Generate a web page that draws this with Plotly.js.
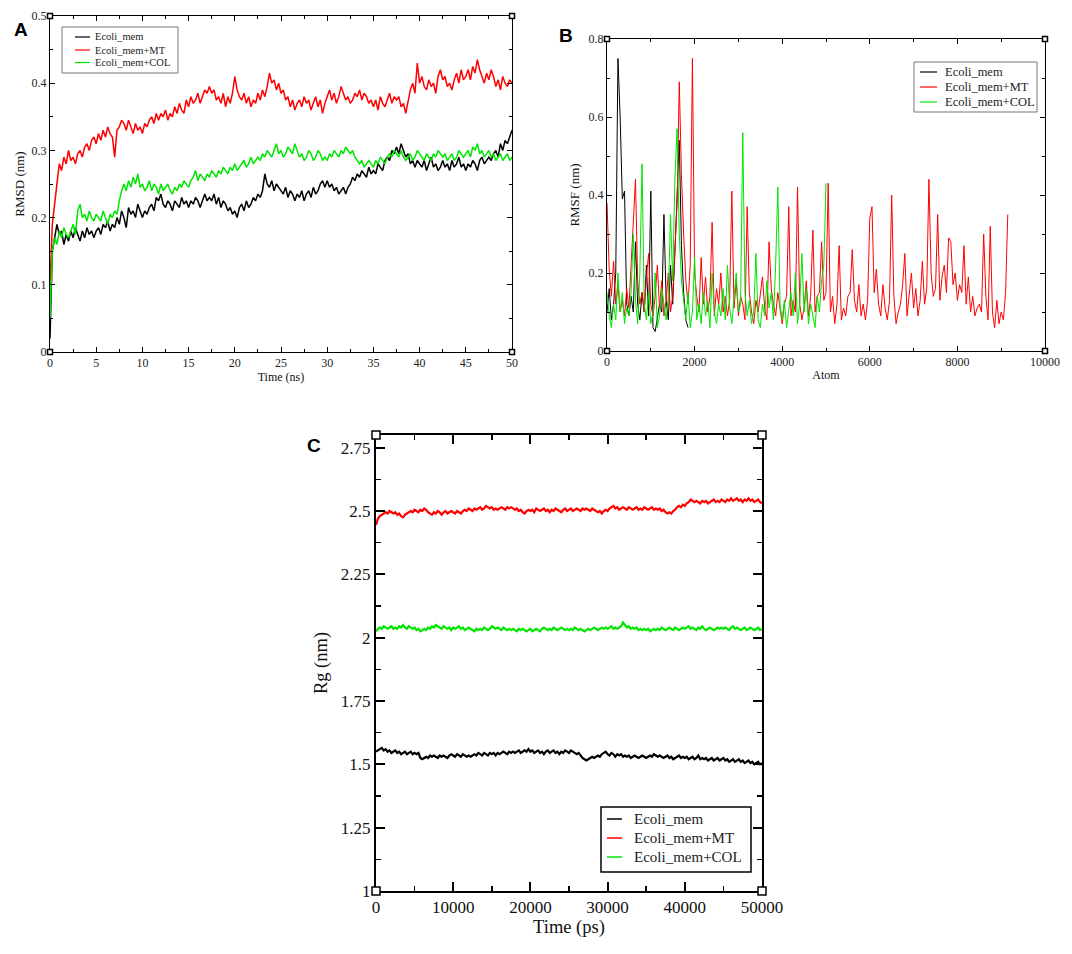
<!DOCTYPE html>
<html>
<head>
<meta charset="utf-8">
<script src="https://cdn.plot.ly/plotly-3.0.1.min.js"></script>
<style>html,body{margin:0;padding:0;background:#fff;}#chart{width:1072px;height:954px;}</style>
</head>
<body>
<div id="chart"></div>
<script>
// ---------- Panel A : RMSD (nm) vs Time (ns), sampled every 0.25 ns ----------
const A_step = 0.25;
const A_mem = [0.02,0.15,0.17,0.19,0.175,0.18,0.16,0.175,0.165,0.18,
0.17,0.185,0.175,0.165,0.18,0.17,0.185,0.175,0.18,0.17,
0.18,0.185,0.175,0.19,0.185,0.195,0.18,0.19,0.185,0.2,
0.19,0.21,0.2,0.185,0.215,0.205,0.21,0.2,0.22,0.21,
0.2,0.21,0.205,0.215,0.22,0.21,0.23,0.225,0.235,0.22,
0.215,0.225,0.22,0.21,0.225,0.22,0.215,0.23,0.22,0.225,
0.215,0.225,0.22,0.23,0.225,0.215,0.225,0.235,0.225,0.23,
0.225,0.235,0.22,0.23,0.215,0.225,0.22,0.21,0.215,0.205,
0.21,0.2,0.215,0.22,0.21,0.225,0.215,0.22,0.23,0.225,
0.235,0.23,0.24,0.265,0.25,0.245,0.255,0.24,0.25,0.245,
0.24,0.235,0.245,0.23,0.24,0.235,0.225,0.235,0.23,0.24,
0.225,0.235,0.24,0.23,0.245,0.235,0.24,0.25,0.255,0.245,
0.255,0.245,0.25,0.24,0.245,0.235,0.24,0.245,0.235,0.245,
0.25,0.26,0.255,0.265,0.26,0.27,0.265,0.26,0.275,0.265,
0.27,0.265,0.28,0.275,0.27,0.285,0.29,0.285,0.3,0.295,
0.305,0.295,0.31,0.3,0.29,0.295,0.28,0.285,0.275,0.285,
0.28,0.275,0.285,0.27,0.28,0.29,0.275,0.28,0.27,0.275,
0.285,0.275,0.28,0.27,0.285,0.275,0.28,0.29,0.275,0.28,
0.27,0.28,0.275,0.285,0.28,0.27,0.285,0.29,0.28,0.285,
0.29,0.285,0.295,0.3,0.29,0.31,0.3,0.315,0.31,0.32,
0.33];
const A_mt = [0.10,0.19,0.22,0.25,0.28,0.27,0.29,0.28,0.30,0.285,
0.29,0.28,0.295,0.30,0.29,0.305,0.31,0.30,0.315,0.32,
0.31,0.325,0.315,0.33,0.32,0.335,0.325,0.32,0.29,0.33,
0.335,0.345,0.34,0.33,0.345,0.335,0.325,0.34,0.33,0.335,
0.325,0.34,0.335,0.345,0.35,0.34,0.355,0.345,0.355,0.35,
0.36,0.345,0.355,0.35,0.365,0.355,0.37,0.36,0.355,0.375,
0.365,0.38,0.37,0.375,0.385,0.37,0.38,0.39,0.385,0.395,
0.385,0.39,0.375,0.38,0.37,0.385,0.365,0.38,0.37,0.385,
0.41,0.39,0.38,0.375,0.385,0.37,0.38,0.365,0.375,0.37,
0.385,0.375,0.39,0.38,0.395,0.415,0.40,0.405,0.39,0.40,
0.385,0.39,0.375,0.38,0.365,0.375,0.36,0.37,0.375,0.365,
0.38,0.37,0.375,0.36,0.37,0.38,0.365,0.375,0.355,0.37,
0.38,0.39,0.375,0.385,0.37,0.38,0.395,0.385,0.375,0.38,
0.37,0.375,0.385,0.38,0.39,0.375,0.385,0.38,0.37,0.375,
0.365,0.375,0.36,0.38,0.37,0.365,0.375,0.385,0.37,0.38,
0.375,0.38,0.365,0.37,0.355,0.375,0.39,0.40,0.385,0.43,
0.40,0.41,0.395,0.39,0.405,0.395,0.40,0.385,0.41,0.42,
0.405,0.41,0.395,0.40,0.39,0.405,0.415,0.40,0.42,0.405,
0.41,0.42,0.405,0.425,0.415,0.435,0.42,0.41,0.40,0.415,
0.405,0.42,0.41,0.395,0.405,0.39,0.41,0.40,0.395,0.405,
0.40];
const A_col = [0.05,0.15,0.17,0.16,0.18,0.17,0.185,0.175,0.17,0.18,
0.19,0.175,0.21,0.22,0.2,0.205,0.195,0.21,0.2,0.195,
0.205,0.2,0.195,0.21,0.2,0.19,0.205,0.2,0.21,0.205,
0.225,0.24,0.25,0.24,0.255,0.245,0.26,0.25,0.265,0.245,
0.25,0.24,0.245,0.255,0.24,0.25,0.245,0.235,0.25,0.24,
0.245,0.25,0.24,0.235,0.245,0.24,0.25,0.245,0.255,0.25,
0.245,0.255,0.26,0.27,0.255,0.265,0.26,0.255,0.265,0.26,
0.27,0.265,0.26,0.27,0.265,0.275,0.27,0.265,0.275,0.27,
0.28,0.27,0.275,0.28,0.285,0.275,0.28,0.29,0.28,0.285,
0.29,0.285,0.295,0.29,0.3,0.295,0.29,0.3,0.31,0.295,
0.3,0.29,0.295,0.305,0.3,0.295,0.31,0.3,0.29,0.295,
0.285,0.29,0.3,0.295,0.285,0.29,0.3,0.295,0.285,0.29,
0.285,0.295,0.29,0.3,0.295,0.29,0.3,0.295,0.305,0.3,
0.295,0.3,0.29,0.285,0.28,0.285,0.275,0.28,0.285,0.28,
0.275,0.285,0.28,0.29,0.285,0.28,0.29,0.295,0.29,0.3,
0.295,0.29,0.3,0.29,0.285,0.29,0.295,0.285,0.29,0.3,
0.295,0.29,0.285,0.295,0.29,0.285,0.295,0.29,0.3,0.295,
0.29,0.295,0.285,0.29,0.295,0.285,0.29,0.3,0.295,0.29,
0.295,0.3,0.29,0.305,0.3,0.31,0.295,0.3,0.29,0.295,
0.3,0.29,0.295,0.285,0.29,0.295,0.285,0.29,0.295,0.285,
0.29];
const A_xticks = [0,5,10,15,20,25,30,35,40,45,50];
const A_yticks = [0,0.1,0.2,0.3,0.4,0.5];
const A_yticklabels = ['0','0.1','0.2','0.3','0.4','0.5'];

// ---------- Panel B : RMSF (nm) vs Atom, sampled every 50 atoms ----------
const B_step = 50;
const B_mem = [0.10,0.16,0.08,0.12,0.20,0.75,0.60,0.39,0.41,0.12,
0.09,0.14,0.10,0.28,0.12,0.08,0.15,0.10,0.22,0.09,
0.41,0.06,0.05,0.08,0.12,0.10,0.35,0.13,0.08,0.22,
0.12,0.25,0.40,0.54,0.27,0.15,0.08,0.06];
const B_mt = [0.38,0.21,0.14,0.23,0.12,0.17,0.10,0.13,0.09,0.16,
0.11,0.22,0.34,0.44,0.18,0.12,0.15,0.10,0.19,0.25,
0.12,0.09,0.14,0.22,0.11,0.18,0.09,0.13,0.20,0.10,
0.14,0.26,0.38,0.69,0.45,0.30,0.18,0.12,0.22,0.75,
0.20,0.14,0.10,0.24,0.12,0.19,0.10,0.14,0.33,0.09,
0.16,0.12,0.20,0.10,0.14,0.09,0.13,0.41,0.11,0.18,
0.09,0.14,0.12,0.08,0.37,0.15,0.10,0.07,0.13,0.10,
0.14,0.19,0.11,0.08,0.28,0.16,0.12,0.09,0.15,0.11,
0.07,0.12,0.14,0.37,0.09,0.13,0.10,0.42,0.12,0.08,
0.11,0.18,0.09,0.14,0.31,0.10,0.14,0.15,0.28,0.13,
0.15,0.43,0.10,0.14,0.07,0.12,0.27,0.08,0.11,0.09,
0.14,0.15,0.26,0.13,0.10,0.17,0.09,0.12,0.08,0.13,
0.34,0.37,0.15,0.21,0.12,0.09,0.17,0.11,0.08,0.13,
0.40,0.14,0.07,0.10,0.12,0.17,0.25,0.09,0.14,0.20,
0.11,0.16,0.09,0.13,0.23,0.12,0.16,0.44,0.20,0.14,
0.16,0.35,0.13,0.19,0.22,0.15,0.29,0.28,0.17,0.20,
0.13,0.17,0.15,0.27,0.12,0.19,0.10,0.14,0.09,0.11,
0.12,0.10,0.30,0.14,0.08,0.32,0.10,0.06,0.13,0.07,
0.10,0.08,0.15,0.35];
const B_col = [0.15,0.09,0.06,0.12,0.08,0.20,0.10,0.15,0.07,0.11,
0.09,0.15,0.30,0.13,0.07,0.20,0.48,0.12,0.08,0.15,
0.07,0.10,0.20,0.06,0.09,0.16,0.12,0.08,0.14,0.35,
0.18,0.44,0.57,0.30,0.18,0.12,0.08,0.15,0.06,0.10,
0.24,0.08,0.12,0.07,0.15,0.09,0.13,0.06,0.20,0.10,
0.07,0.12,0.09,0.16,0.08,0.22,0.11,0.07,0.14,0.20,
0.10,0.12,0.56,0.15,0.09,0.13,0.07,0.10,0.25,0.08,
0.06,0.12,0.09,0.18,0.11,0.15,0.08,0.22,0.42,0.12,
0.08,0.13,0.06,0.10,0.15,0.09,0.20,0.07,0.12,0.25,
0.10,0.16,0.07,0.12,0.09,0.06,0.14,0.10,0.18,0.22,
0.43];
const B_xticks = [0,2000,4000,6000,8000,10000];
const B_xticklabels = ['0','2000','4000','6000','8000','10000'];
const B_yticks = [0,0.2,0.4,0.6,0.8];
const B_yticklabels = ['0','0.2','0.4','0.6','0.8'];

// ---------- Panel C : Rg (nm) vs Time (ps), sampled every 250 ps ----------
const C_step = 250;
const C_mem = [1.55,1.555,1.56,1.565,1.555,1.56,1.55,1.555,1.545,1.55,
1.555,1.545,1.55,1.54,1.545,1.55,1.54,1.545,1.55,1.54,
1.545,1.54,1.545,1.525,1.52,1.525,1.53,1.525,1.535,1.53,
1.535,1.53,1.525,1.535,1.53,1.535,1.53,1.525,1.535,1.54,
1.535,1.53,1.54,1.535,1.53,1.54,1.535,1.53,1.535,1.53,
1.535,1.54,1.535,1.545,1.54,1.535,1.545,1.54,1.535,1.545,
1.54,1.545,1.535,1.545,1.54,1.545,1.55,1.545,1.54,1.55,
1.545,1.55,1.545,1.55,1.555,1.545,1.55,1.555,1.55,1.56,
1.55,1.555,1.545,1.55,1.555,1.545,1.55,1.54,1.55,1.555,
1.545,1.55,1.555,1.545,1.55,1.54,1.55,1.545,1.555,1.55,
1.545,1.555,1.55,1.545,1.54,1.545,1.535,1.525,1.52,1.515,
1.52,1.525,1.53,1.525,1.53,1.535,1.53,1.54,1.545,1.55,
1.54,1.535,1.545,1.54,1.53,1.54,1.535,1.54,1.53,1.535,
1.53,1.535,1.525,1.53,1.535,1.53,1.525,1.53,1.535,1.53,
1.525,1.53,1.535,1.53,1.54,1.535,1.53,1.535,1.53,1.525,
1.53,1.535,1.525,1.53,1.52,1.525,1.53,1.535,1.525,1.53,
1.525,1.53,1.52,1.525,1.53,1.52,1.525,1.535,1.52,1.525,
1.52,1.525,1.515,1.52,1.525,1.515,1.52,1.525,1.515,1.52,
1.525,1.515,1.52,1.51,1.515,1.52,1.51,1.515,1.52,1.51,
1.515,1.505,1.51,1.515,1.505,1.51,1.5,1.505,1.51,1.5,
1.505];
const C_mt = [2.445,2.47,2.48,2.485,2.49,2.495,2.49,2.5,2.495,2.49,
2.495,2.485,2.49,2.48,2.475,2.485,2.49,2.495,2.5,2.495,
2.505,2.5,2.495,2.505,2.5,2.51,2.505,2.495,2.49,2.485,
2.495,2.49,2.5,2.495,2.485,2.495,2.5,2.49,2.495,2.5,
2.495,2.49,2.5,2.495,2.49,2.5,2.505,2.5,2.51,2.505,
2.5,2.51,2.505,2.51,2.515,2.505,2.51,2.52,2.515,2.51,
2.515,2.505,2.51,2.505,2.51,2.515,2.51,2.505,2.515,2.51,
2.515,2.51,2.505,2.51,2.5,2.505,2.495,2.49,2.5,2.505,
2.5,2.505,2.495,2.51,2.505,2.5,2.505,2.51,2.5,2.505,
2.495,2.505,2.5,2.51,2.505,2.5,2.495,2.505,2.51,2.5,
2.505,2.51,2.5,2.505,2.51,2.505,2.5,2.51,2.505,2.51,
2.505,2.5,2.51,2.505,2.5,2.495,2.5,2.49,2.5,2.505,
2.5,2.51,2.515,2.52,2.51,2.515,2.505,2.51,2.515,2.51,
2.505,2.515,2.51,2.505,2.51,2.515,2.505,2.51,2.505,2.515,
2.51,2.505,2.51,2.515,2.505,2.51,2.505,2.51,2.5,2.505,
2.495,2.49,2.495,2.49,2.5,2.505,2.515,2.52,2.515,2.525,
2.52,2.53,2.535,2.545,2.54,2.535,2.54,2.535,2.53,2.54,
2.535,2.54,2.53,2.535,2.54,2.545,2.535,2.54,2.535,2.545,
2.54,2.535,2.545,2.54,2.55,2.54,2.545,2.55,2.54,2.545,
2.535,2.545,2.54,2.55,2.54,2.545,2.535,2.54,2.545,2.535,
2.53];
const C_col = [2.025,2.035,2.04,2.035,2.045,2.04,2.035,2.04,2.045,2.035,
2.04,2.035,2.045,2.04,2.05,2.04,2.035,2.045,2.04,2.035,
2.04,2.03,2.035,2.025,2.03,2.035,2.03,2.04,2.035,2.045,
2.04,2.05,2.045,2.04,2.035,2.045,2.04,2.035,2.04,2.03,
2.04,2.035,2.04,2.045,2.035,2.04,2.03,2.035,2.04,2.035,
2.03,2.025,2.035,2.03,2.035,2.03,2.04,2.035,2.03,2.035,
2.045,2.04,2.035,2.04,2.035,2.03,2.04,2.035,2.03,2.035,
2.03,2.035,2.03,2.025,2.035,2.03,2.035,2.03,2.025,2.03,
2.035,2.025,2.03,2.035,2.03,2.025,2.035,2.04,2.035,2.03,
2.035,2.03,2.04,2.035,2.03,2.035,2.04,2.035,2.03,2.035,
2.03,2.035,2.03,2.04,2.035,2.03,2.035,2.03,2.025,2.03,
2.035,2.03,2.035,2.04,2.035,2.03,2.035,2.04,2.035,2.04,
2.035,2.04,2.045,2.035,2.04,2.035,2.04,2.045,2.06,2.05,
2.04,2.045,2.035,2.04,2.035,2.04,2.03,2.035,2.03,2.035,
2.03,2.035,2.025,2.03,2.035,2.03,2.035,2.03,2.04,2.035,
2.03,2.035,2.04,2.035,2.03,2.04,2.035,2.03,2.035,2.04,
2.035,2.04,2.045,2.035,2.04,2.035,2.03,2.04,2.035,2.045,
2.035,2.03,2.035,2.04,2.035,2.03,2.035,2.04,2.035,2.04,
2.035,2.04,2.035,2.03,2.04,2.045,2.035,2.04,2.035,2.03,
2.035,2.04,2.03,2.035,2.04,2.035,2.03,2.035,2.04,2.03,
2.035];
const C_xticks = [0,10000,20000,30000,40000,50000];
const C_xticklabels = ['0','10000','20000','30000','40000','50000'];
const C_yticks = [1,1.25,1.5,1.75,2,2.25,2.5,2.75];
const C_yticklabels = ['1','1.25','1.5','1.75','2','2.25','2.5','2.75'];

const seriesNames = ['Ecoli_mem','Ecoli_mem+MT','Ecoli_mem+COL'];
const seriesColors = ['#000000','#ff0000','#00e600'];

// ---------- build ----------
const grid = (arr, step) => arr.map((_, i) => i * step);
function mk(vals, step, k, xa, ya, w) {
  return {x: grid(vals, step), y: vals, type: 'scatter', mode: 'lines',
    name: seriesNames[k], line: {color: seriesColors[k], width: w},
    xaxis: xa, yaxis: ya, showlegend: false};
}
const traces = [
  mk(A_mem, A_step, 0, 'x', 'y', 1.5),
  mk(A_mt, A_step, 1, 'x', 'y', 1.5),
  mk(A_col, A_step, 2, 'x', 'y', 1.5),
  mk(B_mem, B_step, 0, 'x2', 'y2', 1),
  mk(B_mt, B_step, 1, 'x2', 'y2', 1),
  mk(B_col, B_step, 2, 'x2', 'y2', 1),
  mk(C_mem, C_step, 0, 'x3', 'y3', 2.2),
  mk(C_mt, C_step, 1, 'x3', 'y3', 2.2),
  mk(C_col, C_step, 2, 'x3', 'y3', 2.2)
];

const SERIF = 'Liberation Serif';
function ax(o) {
  return Object.assign({
    showline: true, linecolor: '#000', mirror: 'allticks', ticks: 'inside',
    showgrid: false, zeroline: false, tickcolor: '#000', automargin: false,
    tickmode: 'array'
  }, o);
}
const W = 1072, H = 954;
const px = v => v / W, py = v => 1 - v / H;

const layout = {
  width: W, height: H, margin: {l: 0, r: 0, t: 0, b: 0},
  paper_bgcolor: '#fff', plot_bgcolor: '#fff', showlegend: false,
  font: {family: SERIF, color: '#111'},
  xaxis: ax({domain: [px(50), px(512)], range: [0, 50], anchor: 'y',
    tickvals: A_xticks, ticklen: 5, linewidth: 1, tickwidth: 1,
    minor: {dtick: 2.5, tick0: 0, ticks: 'inside', ticklen: 3, tickcolor: '#000'},
    tickfont: {family: SERIF, size: 12, color: '#222'},
    title: {text: 'Time (ns)', font: {family: SERIF, size: 12}, standoff: 0}}),
  yaxis: ax({domain: [1 - 352 / H, 1 - 16 / H], range: [0, 0.5], anchor: 'x',
    tickvals: A_yticks, ticktext: A_yticklabels, ticklen: 5, linewidth: 1, tickwidth: 1,
    minor: {dtick: 0.05, tick0: 0, ticks: 'inside', ticklen: 3, tickcolor: '#000'},
    tickfont: {family: SERIF, size: 12, color: '#222'},
    title: {text: 'RMSD (nm)', font: {family: SERIF, size: 13}, standoff: 4}}),
  xaxis2: ax({domain: [px(607), px(1045)], range: [0, 10000], anchor: 'y2',
    tickvals: B_xticks, ticktext: B_xticklabels, ticklen: 5, linewidth: 1, tickwidth: 1,
    minor: {dtick: 1000, tick0: 0, ticks: 'inside', ticklen: 3, tickcolor: '#000'},
    tickfont: {family: SERIF, size: 12, color: '#222'},
    title: {text: 'Atom', font: {family: SERIF, size: 12}, standoff: 2}}),
  yaxis2: ax({domain: [1 - 351 / H, 1 - 39 / H], range: [0, 0.8], anchor: 'x2',
    tickvals: B_yticks, ticktext: B_yticklabels, ticklen: 5, linewidth: 1, tickwidth: 1,
    minor: {dtick: 0.1, tick0: 0, ticks: 'inside', ticklen: 3, tickcolor: '#000'},
    tickfont: {family: SERIF, size: 12, color: '#222'},
    title: {text: 'RMSF (nm)', font: {family: SERIF, size: 13}, standoff: 6}}),
  xaxis3: ax({domain: [px(376), px(762)], range: [0, 50000], anchor: 'y3',
    tickvals: C_xticks, ticktext: C_xticklabels, ticklen: 9, linewidth: 2, tickwidth: 2,
    minor: {dtick: 5000, tick0: 0, ticks: 'inside', ticklen: 5, tickwidth: 1.5, tickcolor: '#000'},
    tickfont: {family: SERIF, size: 17, color: '#111'},
    title: {text: 'Time (ps)', font: {family: SERIF, size: 18.5}, standoff: 0}}),
  yaxis3: ax({domain: [1 - 891 / H, 1 - 435 / H], range: [1, 2.8], anchor: 'x3',
    tickvals: C_yticks, ticktext: C_yticklabels, ticklen: 9, linewidth: 2, tickwidth: 2,
    minor: {dtick: 0.125, tick0: 1, ticks: 'inside', ticklen: 5, tickwidth: 1.5, tickcolor: '#000'},
    tickfont: {family: SERIF, size: 17, color: '#111'},
    title: {text: 'Rg (nm)', font: {family: SERIF, size: 18.5}, standoff: 8}}),
  annotations: [
    {text: '<b>A</b>', x: px(12), y: py(17), xref: 'paper', yref: 'paper', showarrow: false,
      font: {family: 'Liberation Sans', size: 19, color: '#000'}},
    {text: '<b>B</b>', x: px(566), y: py(23), xref: 'paper', yref: 'paper', showarrow: false,
      font: {family: 'Liberation Sans', size: 19, color: '#000'}},
    {text: '<b>C</b>', x: px(305), y: py(445), xref: 'paper', yref: 'paper', showarrow: false,
      font: {family: 'Liberation Sans', size: 19, color: '#000'}}
  ],
  shapes: []
};

// xmgrace-style legend boxes (border, short line sample, label) for each panel
function legendBox(box, rowsY, lineX, textX, size, border, bw, lw) {
  layout.shapes.push({type: 'rect', xref: 'paper', yref: 'paper',
    x0: px(box[0]), x1: px(box[2]), y0: py(box[3]), y1: py(box[1]),
    line: {color: border, width: bw}, fillcolor: '#fff', layer: 'above'});
  seriesNames.forEach((nm, k) => {
    layout.shapes.push({type: 'line', xref: 'paper', yref: 'paper',
      x0: px(lineX[0]), x1: px(lineX[1]), y0: py(rowsY[k]), y1: py(rowsY[k]),
      line: {color: seriesColors[k], width: lw}, layer: 'above'});
    layout.annotations.push({text: nm, xref: 'paper', yref: 'paper',
      x: px(textX), y: py(rowsY[k]), xanchor: 'left', yanchor: 'middle', showarrow: false,
      font: {family: SERIF, size: size, color: '#222'}});
  });
}
legendBox([62, 27, 178, 73], [37, 50, 62.5], [75, 90], 93, 10.5, '#777', 1, 1.2);
legendBox([914, 62, 1037, 112], [72, 87, 102], [920, 937], 943, 12.5, '#777', 1, 1.2);
legendBox([601, 807, 751, 872], [819, 838, 857], [607, 622], 632, 15, '#000', 1.5, 1.5);

// small hollow squares at the frame corners (xmgrace style)
[['x', 'y', 2.5], ['x2', 'y2', 2.5], ['x3', 'y3', 4]].forEach(([xa, ya, s]) => {
  [0, 1].forEach(cx => [0, 1].forEach(cy => {
    layout.shapes.push({type: 'rect', xref: xa + ' domain', yref: ya + ' domain',
      xsizemode: 'pixel', ysizemode: 'pixel', xanchor: cx, yanchor: cy,
      x0: -s, x1: s, y0: -s, y1: s,
      line: {color: '#000', width: 1.5}, fillcolor: '#fff'});
  }));
});

Plotly.newPlot('chart', traces, layout, {staticPlot: true, displayModeBar: false});
</script>
</body>
</html>
